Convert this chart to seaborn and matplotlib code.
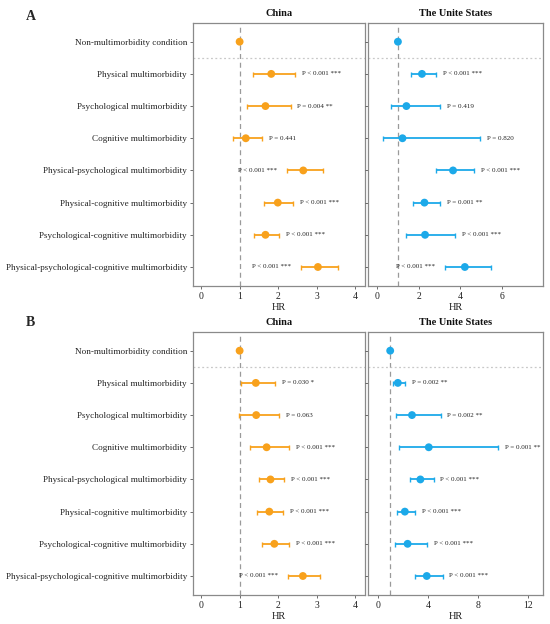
import numpy as np
import pandas as pd
import matplotlib
matplotlib.use("Agg")
import matplotlib.pyplot as plt
import seaborn as sns

# rows of the forest plot
labels = ["Non-multimorbidity condition", "Physical multimorbidity",
          "Psychological multimorbidity", "Cognitive multimorbidity",
          "Physical-psychological multimorbidity", "Physical-cognitive multimorbidity",
          "Psychological-cognitive multimorbidity",
          "Physical-psychological-cognitive multimorbidity"]

# panel A
china_a_hr = [1.0, 1.82, 1.67, 1.16, 2.65, 1.99, 1.67, 3.03]
china_a_lo = [np.nan, 1.34, 1.19, 0.82, 2.22, 1.63, 1.37, 2.58]
china_a_hi = [np.nan, 2.43, 2.32, 1.59, 3.16, 2.39, 2.02, 3.54]
china_a_p = ["", "P < 0.001 ***", "P = 0.004 **", "P = 0.441", "P < 0.001 ***",
             "P < 0.001 ***", "P < 0.001 ***", "P < 0.001 ***"]

us_a_hr = [1.0, 2.16, 1.41, 1.22, 3.66, 2.28, 2.31, 4.23]
us_a_lo = [np.nan, 1.64, 0.67, 0.26, 2.85, 1.72, 1.41, 3.27]
us_a_hi = [np.nan, 2.85, 3.01, 4.96, 4.68, 3.01, 3.74, 5.48]
us_a_p = ["", "P < 0.001 ***", "P = 0.419", "P = 0.820", "P < 0.001 ***",
          "P = 0.001 **", "P < 0.001 ***", "P < 0.001 ***"]

# panel B
china_b_hr = [1.0, 1.42, 1.43, 1.70, 1.80, 1.77, 1.90, 2.64]
china_b_lo = [np.nan, 1.03, 0.98, 1.28, 1.50, 1.45, 1.58, 2.25]
china_b_hi = [np.nan, 1.91, 2.03, 2.27, 2.15, 2.12, 2.27, 3.09]
china_b_p = ["", "P = 0.030 *", "P = 0.063", "P < 0.001 ***", "P < 0.001 ***",
             "P < 0.001 ***", "P < 0.001 ***", "P < 0.001 ***"]

us_b_hr = [1.0, 1.61, 2.74, 4.08, 3.41, 2.17, 2.39, 3.92]
us_b_lo = [np.nan, 1.21, 1.45, 1.74, 2.55, 1.58, 1.42, 2.95]
us_b_hi = [np.nan, 2.20, 5.02, 9.61, 4.46, 2.95, 3.97, 5.18]
us_b_p = ["", "P = 0.002 **", "P = 0.002 **", "P = 0.001 **", "P < 0.001 ***",
          "P < 0.001 ***", "P < 0.001 ***", "P < 0.001 ***"]

china_ticks = [0, 1, 2, 3, 4]
us_a_ticks = [0, 2, 4, 6]
us_b_ticks = [0, 4, 8, 12]

ORANGE = "#F8A11C"
BLUE = "#1CA9E9"

sns.set_theme(style="white")
plt.rcParams['font.family'] = ['Liberation Serif', 'DejaVu Serif']

fig = plt.figure(figsize=(5.5, 6.24), dpi=100)


def draw_panel(ax, hr, lo, hi, ptxt, color, xlim, ticks, left_rows, title, show_labels):
    df = pd.DataFrame({"row": np.arange(len(labels)), "hr": hr, "lo": lo, "hi": hi, "p": ptxt})
    ci = df.dropna()
    ax.axvline(1, color="#9a9a9a", ls=(0, (4, 3)), lw=0.9, zorder=1)
    ax.axhline(0.5, color="#c8c8c8", ls=(0, (1.5, 2)), lw=0.9, zorder=1)
    ax.errorbar(ci["hr"], ci["row"], xerr=[ci["hr"] - ci["lo"], ci["hi"] - ci["hr"]],
                fmt="none", ecolor=color, elinewidth=1.3, capsize=1.8, capthick=1.0, zorder=2)
    sns.scatterplot(data=df, x="hr", y="row", ax=ax, color=color, s=32,
                    edgecolor="none", zorder=3, legend=False)
    for _, r in ci.iterrows():
        if r["row"] in left_rows:
            ax.annotate(r["p"], (r["lo"], r["row"]), xytext=(-7, 0), textcoords="offset points",
                        ha="right", va="center", fontsize=5, color="#222222")
        else:
            ax.annotate(r["p"], (r["hi"], r["row"]), xytext=(5, 0), textcoords="offset points",
                        ha="left", va="center", fontsize=5, color="#222222")
    ax.set_xlim(*xlim)
    ax.set_ylim(len(labels) - 0.41, -0.59)
    ax.set_xticks(ticks)
    ax.set_xticklabels([str(t) for t in ticks], fontsize=7, color="#222222")
    ax.set_yticks(np.arange(len(labels)))
    if show_labels:
        ax.set_yticklabels(labels, fontsize=6.6, color="#222222")
    else:
        ax.set_yticklabels([])
    ax.tick_params(axis="both", which="major", direction="out", length=2.5, width=0.6,
                   color="#555555", pad=2, left=True, bottom=True)
    for sp in ax.spines.values():
        sp.set_color("#8a8a8a")
        sp.set_linewidth(0.9)
    ax.set_xlabel("HR", fontsize=7.5, color="#222222", labelpad=1)
    ax.set_ylabel("")
    ax.set_title(title, fontsize=7.5, fontweight="bold", color="#111111", pad=5)


ax1 = fig.add_axes([0.3515, 0.5417, 0.3121, 0.4219])
ax2 = fig.add_axes([0.6696, 0.5417, 0.3176, 0.4219])
ax3 = fig.add_axes([0.3515, 0.0465, 0.3121, 0.4219])
ax4 = fig.add_axes([0.6696, 0.0465, 0.3176, 0.4219])

draw_panel(ax1, china_a_hr, china_a_lo, china_a_hi, china_a_p, ORANGE, (-0.2, 4.25),
           china_ticks, [4, 7], "China", True)
draw_panel(ax2, us_a_hr, us_a_lo, us_a_hi, us_a_p, BLUE, (-0.43, 8.0),
           us_a_ticks, [7], "The Unite States", False)
draw_panel(ax3, china_b_hr, china_b_lo, china_b_hi, china_b_p, ORANGE, (-0.2, 4.25),
           china_ticks, [7], "China", True)
draw_panel(ax4, us_b_hr, us_b_lo, us_b_hi, us_b_p, BLUE, (-0.75, 13.2),
           us_b_ticks, [], "The Unite States", False)

fig.text(0.047, 0.973, "A", fontsize=10, fontweight="bold", va="center", ha="left")
fig.text(0.047, 0.483, "B", fontsize=10, fontweight="bold", va="center", ha="left")

fig.savefig("out.png", dpi=100)
